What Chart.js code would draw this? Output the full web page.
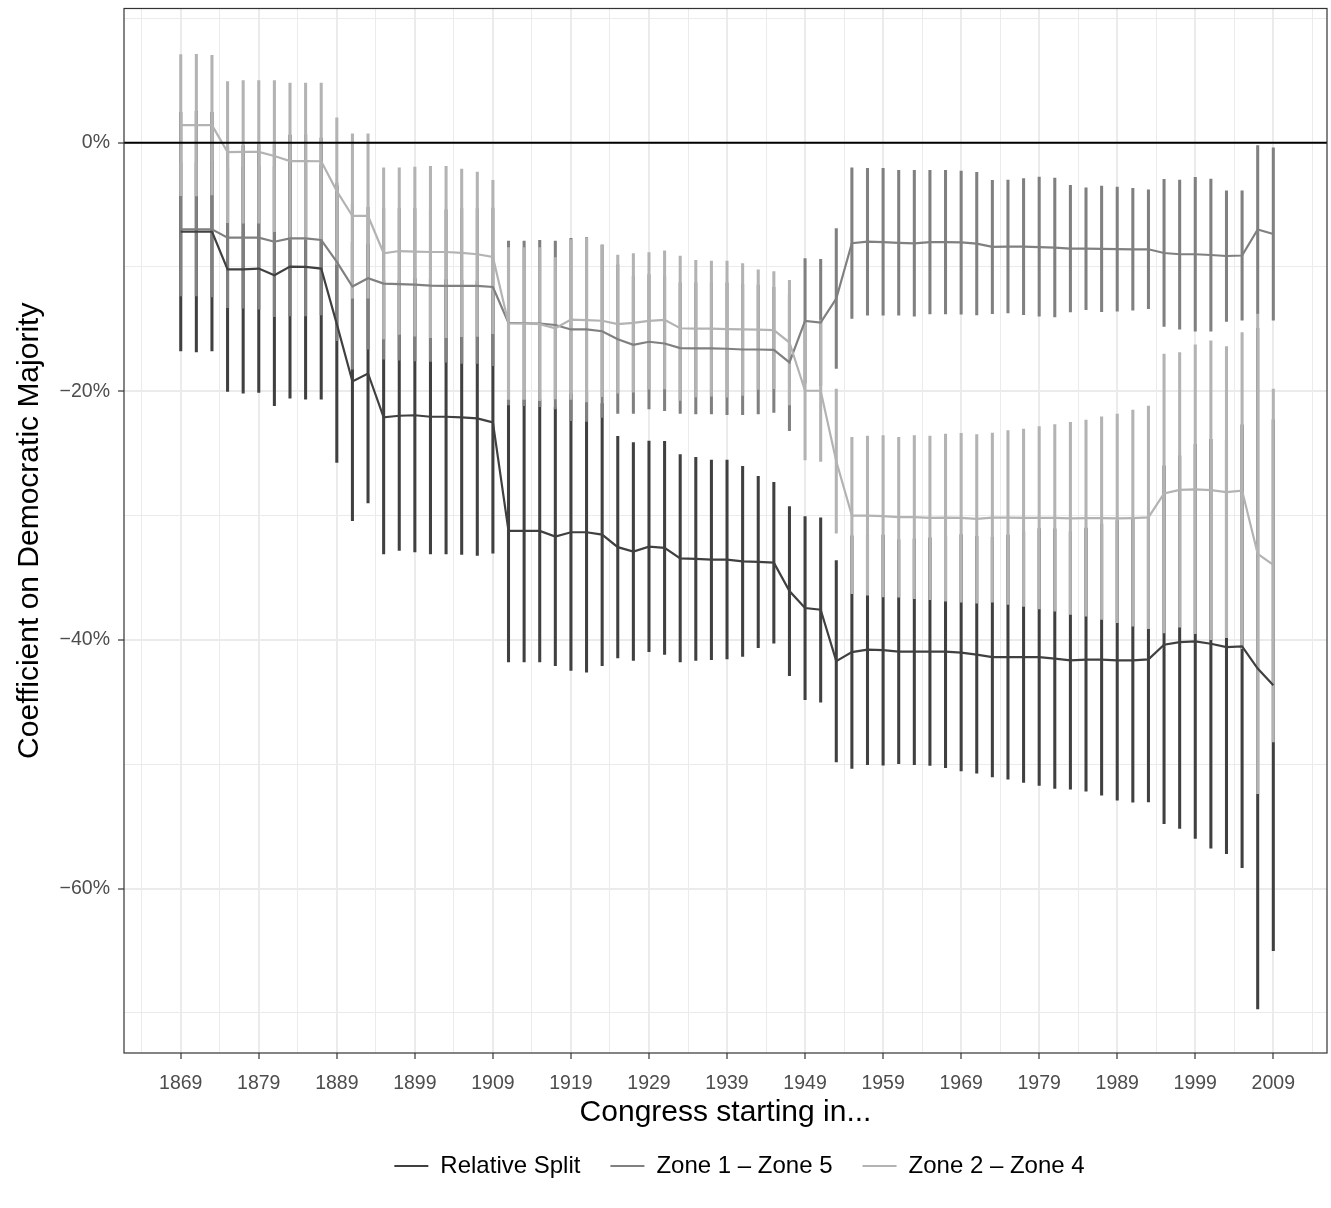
<!DOCTYPE html>
<html>
<head>
<meta charset="utf-8">
<script src="https://cdn.jsdelivr.net/npm/chart.js"></script>
<style>
  body { margin: 0; background: #ffffff; }
  #wrap { position: relative; width: 1331px; height: 1208px; }
</style>
</head>
<body>
<div id="wrap"><canvas id="coefChart"></canvas></div>
<script>
// Congress start years, one point per congress
var years = [1869, 1871, 1873, 1875, 1877, 1879, 1881, 1883, 1885, 1887,
  1889, 1891, 1893, 1895, 1897, 1899, 1901, 1903, 1905, 1907,
  1909, 1911, 1913, 1915, 1917, 1919, 1921, 1923, 1925, 1927,
  1929, 1931, 1933, 1935, 1937, 1939, 1941, 1943, 1945, 1947,
  1949, 1951, 1953, 1955, 1957, 1959, 1961, 1963, 1965, 1967,
  1969, 1971, 1973, 1975, 1977, 1979, 1981, 1983, 1985, 1987,
  1989, 1991, 1993, 1995, 1997, 1999, 2001, 2003, 2005, 2007,
  2009];

// Relative Split (percent)
var splitMean = [-7.16, -7.16, -7.16, -10.19, -10.19, -10.13, -10.67, -9.97, -10.0, -10.13,
  -14.6, -19.21, -18.57, -22.1, -21.97, -21.93, -22.05, -22.05, -22.1, -22.18,
  -22.5, -31.23, -31.23, -31.23, -31.69, -31.34, -31.34, -31.53, -32.54, -32.89,
  -32.5, -32.6, -33.44, -33.48, -33.55, -33.55, -33.69, -33.73, -33.79, -36.07,
  -37.44, -37.57, -41.71, -40.98, -40.79, -40.82, -40.95, -40.95, -40.95, -40.95,
  -41.03, -41.19, -41.38, -41.38, -41.38, -41.38, -41.51, -41.65, -41.59, -41.59,
  -41.65, -41.65, -41.57, -40.39, -40.18, -40.12, -40.31, -40.58, -40.52, -42.31,
  -43.65];
var splitLow = [-16.75, -16.83, -16.75, -20.01, -20.15, -20.10, -21.16, -20.55, -20.63, -20.63,
  -25.72, -30.40, -28.98, -33.08, -32.81, -32.92, -33.08, -33.08, -33.13, -33.21,
  -33.03, -41.78, -41.78, -41.78, -42.07, -42.45, -42.59, -42.07, -41.46, -41.65,
  -40.95, -41.16, -41.78, -41.65, -41.59, -41.54, -41.33, -40.63, -40.26, -42.87,
  -44.80, -45.00, -49.81, -50.34, -50.03, -50.08, -49.95, -50.03, -50.10, -50.27,
  -50.54, -50.72, -51.02, -51.20, -51.47, -51.71, -51.95, -52.01, -52.17, -52.49,
  -52.89, -53.05, -53.03, -54.79, -55.17, -55.97, -56.75, -57.20, -58.33, -69.69,
  -65.00];
var splitHigh = [2.43, 2.51, 2.43, -0.37, -0.23, -0.16, -0.18, 0.61, 0.63, 0.37,
  -3.48, -8.02, -8.16, -11.12, -11.13, -10.94, -11.02, -11.02, -11.07, -11.15,
  -11.97, -20.68, -20.68, -20.68, -21.31, -20.23, -20.09, -20.99, -23.62, -24.13,
  -24.00, -24.03, -25.10, -25.32, -25.53, -25.53, -26.04, -26.84, -27.32, -29.28,
  -30.08, -30.19, -33.61, -31.62, -31.55, -31.56, -31.95, -31.87, -31.80, -31.63,
  -31.52, -31.66, -31.74, -31.56, -31.29, -31.05, -31.07, -31.29, -31.01, -30.69,
  -30.41, -30.25, -30.11, -25.99, -25.19, -24.27, -23.87, -23.96, -22.71, -14.93,
  -22.30];

// Zone 1 - Zone 5
var zone15Mean = [-6.97, -6.97, -6.97, -7.64, -7.64, -7.64, -7.97, -7.70, -7.70, -7.83,
  -9.60, -11.58, -10.91, -11.34, -11.39, -11.43, -11.50, -11.53, -11.53, -11.53,
  -11.61, -14.50, -14.53, -14.55, -14.67, -15.03, -15.03, -15.17, -15.81, -16.27,
  -16.02, -16.16, -16.53, -16.55, -16.55, -16.58, -16.64, -16.64, -16.67, -17.68,
  -14.34, -14.47, -12.55, -8.09, -7.97, -8.00, -8.06, -8.10, -8.00, -8.00,
  -8.02, -8.13, -8.39, -8.37, -8.37, -8.40, -8.45, -8.53, -8.53, -8.54,
  -8.56, -8.58, -8.58, -8.88, -8.98, -8.98, -9.04, -9.12, -9.08, -6.99,
  -7.35];
var zone15Low = [-12.33, -12.33, -12.41, -13.27, -13.32, -13.40, -13.99, -13.94, -13.94, -13.86,
  -15.94, -18.22, -16.61, -17.42, -17.50, -17.55, -17.60, -17.66, -17.76, -17.76,
  -17.95, -21.09, -21.16, -21.24, -21.43, -22.37, -22.42, -22.10, -21.78, -21.78,
  -21.43, -21.57, -21.78, -21.83, -21.83, -21.89, -21.89, -21.83, -21.70, -23.17,
  -19.35, -19.56, -18.17, -14.15, -13.88, -13.88, -13.88, -13.96, -13.78, -13.78,
  -13.80, -13.86, -13.75, -13.69, -13.83, -13.96, -14.02, -13.61, -13.43, -13.59,
  -13.56, -13.48, -13.35, -14.79, -15.00, -15.17, -15.17, -14.39, -14.28, -13.75,
  -14.28];
var zone15High = [-1.61, -1.61, -1.53, -2.01, -1.96, -1.88, -1.95, -1.46, -1.46, -1.80,
  -3.26, -4.94, -5.21, -5.26, -5.28, -5.31, -5.40, -5.40, -5.30, -5.30,
  -5.27, -7.91, -7.91, -7.86, -7.91, -7.69, -7.64, -8.24, -9.84, -10.76,
  -10.61, -10.75, -11.28, -11.27, -11.27, -11.27, -11.39, -11.45, -11.64, -12.19,
  -9.33, -9.38, -6.92, -2.02, -2.07, -2.07, -2.23, -2.23, -2.23, -2.23,
  -2.28, -2.39, -3.04, -3.01, -2.90, -2.77, -2.85, -3.44, -3.63, -3.49,
  -3.57, -3.68, -3.79, -2.96, -3.01, -2.80, -2.93, -3.87, -3.87, -0.23,
  -0.42];

// Zone 2 - Zone 4
var zone24Mean = [1.41, 1.41, 1.41, -0.76, -0.74, -0.74, -1.08, -1.49, -1.49, -1.50,
  -3.90, -5.90, -5.90, -8.90, -8.72, -8.77, -8.80, -8.80, -8.87, -8.98,
  -9.20, -14.55, -14.55, -14.60, -14.93, -14.23, -14.28, -14.33, -14.60, -14.50,
  -14.34, -14.26, -14.93, -14.96, -14.96, -15.00, -15.03, -15.05, -15.08, -16.08,
  -19.96, -19.96, -25.63, -30.00, -30.00, -30.05, -30.13, -30.13, -30.19, -30.16,
  -30.18, -30.27, -30.16, -30.16, -30.18, -30.18, -30.19, -30.23, -30.20, -30.21,
  -30.23, -30.20, -30.15, -28.22, -27.93, -27.89, -27.96, -28.11, -27.99, -33.08,
  -33.96];
var zone24Low = [-4.26, -4.28, -4.21, -6.43, -6.48, -6.48, -7.16, -7.76, -7.76, -7.78,
  -9.79, -12.51, -12.51, -15.78, -15.42, -15.57, -15.69, -15.69, -15.61, -15.59,
  -15.36, -20.65, -20.65, -20.75, -20.61, -20.66, -20.86, -20.43, -20.16, -20.07,
  -19.83, -19.81, -20.74, -20.46, -20.40, -20.48, -20.33, -19.86, -19.79, -21.09,
  -25.52, -25.64, -31.42, -36.29, -36.40, -36.54, -36.56, -36.69, -36.77, -36.88,
  -36.96, -37.04, -36.96, -37.15, -37.31, -37.50, -37.69, -37.95, -38.09, -38.36,
  -38.62, -38.89, -39.10, -39.43, -38.97, -39.50, -39.98, -39.82, -40.70, -52.36,
  -48.20];
var zone24High = [7.08, 7.10, 7.03, 4.91, 5.00, 5.00, 5.00, 4.78, 4.78, 4.78,
  1.99, 0.71, 0.71, -2.02, -2.02, -1.97, -1.91, -1.91, -2.13, -2.37,
  -3.04, -8.45, -8.45, -8.45, -9.25, -7.80, -7.70, -8.23, -9.04, -8.93,
  -8.85, -8.71, -9.12, -9.46, -9.52, -9.52, -9.73, -10.24, -10.37, -11.07,
  -14.40, -14.28, -19.83, -23.71, -23.60, -23.56, -23.71, -23.57, -23.60, -23.44,
  -23.39, -23.49, -23.36, -23.17, -23.04, -22.85, -22.69, -22.50, -22.31, -22.05,
  -21.83, -21.51, -21.19, -17.01, -16.88, -16.27, -15.94, -16.40, -15.27, -13.80,
  -19.83];

// axis ticks
var xTickYears = [1869, 1879, 1889, 1899, 1909, 1919, 1929, 1939, 1949, 1959, 1969, 1979, 1989, 1999, 2009];
var xMinorYears = [1864, 1874, 1884, 1894, 1904, 1914, 1924, 1934, 1944, 1954, 1964, 1974, 1984, 1994, 2004, 2014];
var yTickValues = [0, -20, -40, -60];
var yMinorValues = [10, -10, -30, -50, -70];
var xMin = 1861.73, xMax = 2015.88;
var yMin = -73.23, yMax = 10.79;

var darkGrey = '#404040', midGrey = '#808080', lightGrey = '#b3b3b3';
var fontFamily = '"Liberation Sans", Arial, Helvetica, sans-serif';

function points(vals) {
  return years.map(function (yr, i) { return { x: yr, y: vals[i] }; });
}
function ranges(lo, hi) {
  return years.map(function (yr, i) { return { x: yr, y: [lo[i], hi[i]] }; });
}
function lineSet(label, vals, color, order) {
  return { type: 'line', label: label, data: points(vals), borderColor: color, backgroundColor: color,
    borderWidth: 2.2, pointRadius: 0, tension: 0, fill: false, order: order };
}
function barSet(label, lo, hi, color, order) {
  return { type: 'bar', label: label, data: ranges(lo, hi), backgroundColor: color,
    barThickness: 2.4, grouped: false, order: order };
}
function isIn(list, v) {
  for (var i = 0; i < list.length; i++) { if (Math.abs(list[i] - v) < 1e-6) return true; }
  return false;
}
function tickVal(c) { return c && c.tick ? c.tick.value : NaN; }

// frame around the panel, like theme_bw
var panelBorder = {
  id: 'panelBorder',
  afterDraw: function (chart) {
    var a = chart.chartArea, c = chart.ctx;
    c.save();
    c.strokeStyle = '#333333';
    c.lineWidth = 1.2;
    c.strokeRect(a.left, a.top, a.right - a.left, a.bottom - a.top);
    c.restore();
  }
};

// move the legend under the panel centre, a bit higher than the default slot
var legendShift = {
  id: 'legendShift',
  afterLayout: function (chart) {
    var lg = chart.legend;
    lg.left += 76; lg.right += 76;
    lg.top -= 20; lg.bottom -= 20;
  }
};

var ctx = document.getElementById('coefChart').getContext('2d');
var myChart = new Chart(ctx, {
  data: {
    datasets: [
      lineSet('Relative Split', splitMean, darkGrey, 3),
      lineSet('Zone 1 \u2013 Zone 5', zone15Mean, midGrey, 2),
      lineSet('Zone 2 \u2013 Zone 4', zone24Mean, lightGrey, 1),
      barSet('Relative Split CI', splitLow, splitHigh, darkGrey, 6),
      barSet('Zone 1 \u2013 Zone 5 CI', zone15Low, zone15High, midGrey, 5),
      barSet('Zone 2 \u2013 Zone 4 CI', zone24Low, zone24High, lightGrey, 4),
      { type: 'line', label: 'zero', data: [{ x: xMin, y: 0 }, { x: xMax, y: 0 }],
        borderColor: '#000000', borderWidth: 2, pointRadius: 0, order: 0 }
    ]
  },
  options: {
    responsive: true,
    maintainAspectRatio: false,
    devicePixelRatio: 1,
    animation: false,
    events: [],
    layout: { padding: { left: 0, right: 4, top: 7, bottom: 0 } },
    plugins: {
      tooltip: { enabled: false },
      legend: {
        position: 'bottom',
        labels: {
          filter: function (item) { return item.datasetIndex < 3; },
          sort: function (a, b) { return a.datasetIndex - b.datasetIndex; },
          usePointStyle: true,
          pointStyle: 'line',
          pointStyleWidth: 34,
          padding: 30,
          color: '#000000',
          font: { family: fontFamily, size: 24 }
        }
      }
    },
    scales: {
      x: {
        type: 'linear',
        min: xMin,
        max: xMax,
        offset: false,
        afterBuildTicks: function (scale) {
          scale.ticks = xTickYears.concat(xMinorYears).sort(function (a, b) { return a - b; })
            .map(function (v) { return { value: v }; });
        },
        afterFit: function (scale) { scale.height = 91; },
        grid: {
          offset: false,
          color: '#ebebeb',
          lineWidth: function (c) { return isIn(xTickYears, tickVal(c)) ? 2 : 1; },
          tickColor: function (c) { return isIn(xTickYears, tickVal(c)) ? '#333333' : 'rgba(0,0,0,0)'; },
          tickLength: 6,
          tickWidth: 1.2
        },
        border: { display: false },
        ticks: {
          autoSkip: false,
          maxRotation: 0,
          padding: 13,
          color: '#4d4d4d',
          font: { family: fontFamily, size: 19.5 },
          callback: function (v) { return isIn(xTickYears, v) ? String(v) : ''; }
        },
        title: {
          display: true,
          text: 'Congress starting in...',
          color: '#000000',
          font: { family: fontFamily, size: 30, lineHeight: 1 },
          padding: { top: 0, bottom: 16 }
        }
      },
      y: {
        type: 'linear',
        min: yMin,
        max: yMax,
        afterBuildTicks: function (scale) {
          scale.ticks = yTickValues.concat(yMinorValues).sort(function (a, b) { return a - b; })
            .map(function (v) { return { value: v }; });
        },
        afterFit: function (scale) { scale.width = 124; },
        grid: {
          color: '#ebebeb',
          lineWidth: function (c) { return isIn(yTickValues, tickVal(c)) ? 2 : 1; },
          tickColor: function (c) { return isIn(yTickValues, tickVal(c)) ? '#333333' : 'rgba(0,0,0,0)'; },
          tickLength: 6,
          tickWidth: 1.2
        },
        border: { display: false },
        ticks: {
          autoSkip: false,
          padding: 8,
          color: '#4d4d4d',
          font: { family: fontFamily, size: 19.5, lineHeight: 0.05 },
          callback: function (v) {
            if (!isIn(yTickValues, v)) return '';
            return v === 0 ? '0%' : '\u2212' + Math.abs(v) + '%';
          }
        },
        title: {
          display: true,
          text: 'Coefficient on Democratic Majority',
          color: '#000000',
          font: { family: fontFamily, size: 30, lineHeight: 1.2 },
          padding: { top: 12, bottom: 0 }
        }
      }
    }
  },
  plugins: [panelBorder, legendShift]
});
</script>
</body>
</html>
